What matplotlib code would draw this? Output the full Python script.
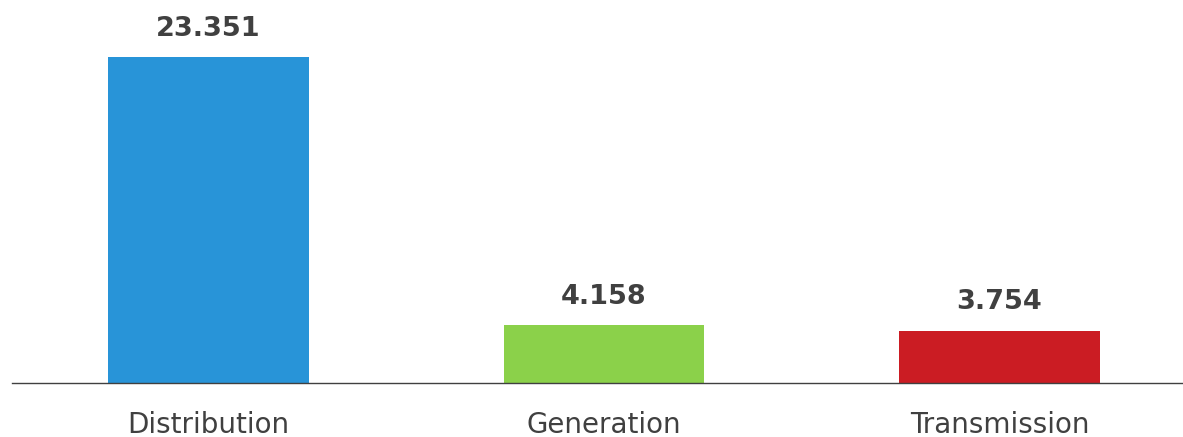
import matplotlib
matplotlib.use('Agg')
import matplotlib.pyplot as plt

categories = ['Distribution', 'Generation', 'Transmission']
values = [23.351, 4.158, 3.754]
colors = ['#2894d8', '#8bd14a', '#cb1c23']
labels = ['23.351', '4.158', '3.754']

fig = plt.figure(figsize=(11.83, 4.37), dpi=100)
ax = fig.add_axes([12 / 1183, 54 / 437, 1171 / 1183, 383 / 437])

x = range(len(categories))
bars = ax.bar(x, values, width=0.508, color=colors)

# value labels above each bar
for b, lab in zip(bars, labels):
    ax.annotate(lab, (b.get_x() + b.get_width() / 2, b.get_height()),
                xytext=(0, 11), textcoords='offset points',
                ha='center', va='bottom', fontsize=19.5, fontweight='bold',
                color='#404040')

ax.set_xlim(-0.497, 2.464)
ax.set_ylim(0, 27.43)

for s in ['top', 'right', 'left']:
    ax.spines[s].set_visible(False)
ax.spines['bottom'].set_color('#404040')
ax.spines['bottom'].set_linewidth(1)

ax.set_yticks([])
ax.set_xticks(list(x))
ax.set_xticklabels(categories, fontsize=20, color='#404040')
ax.tick_params(axis='x', length=0, pad=20)

fig.savefig('out.png', dpi=100)
